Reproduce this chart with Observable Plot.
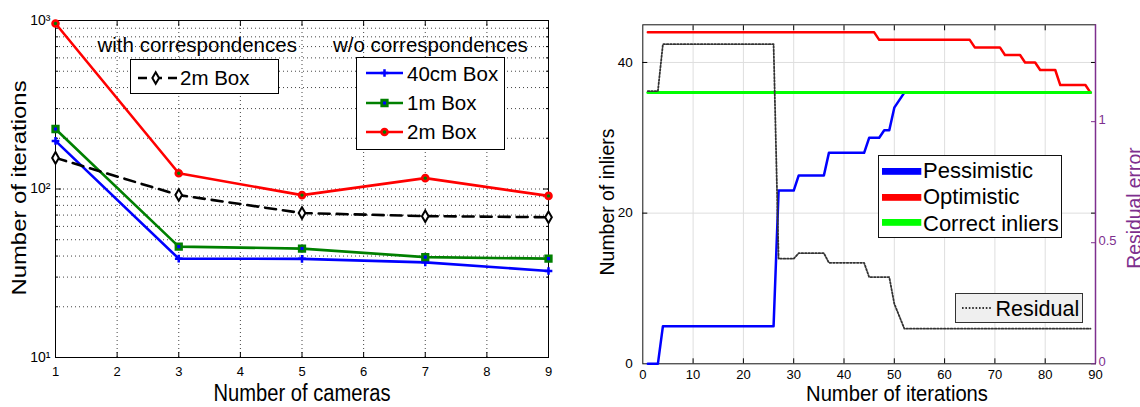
<!DOCTYPE html>
<html><head><meta charset="utf-8">
<script src="https://cdn.jsdelivr.net/npm/d3@7"></script>
<script src="https://cdn.jsdelivr.net/npm/@observablehq/plot@0.6"></script>
<style>
body{margin:0;background:#fff;font-family:"Liberation Sans",Arial,sans-serif;}
#wrap{position:relative;width:1140px;height:407px;overflow:hidden;background:#fff;}
</style></head><body><div id="wrap"></div>
<script>
// ---------- Left panel data ----------
const cameras = [1, 3, 5, 7, 9];
const box40cm = [193, 38.6, 38.5, 36.7, 32.6];
const box1m = [227, 45.5, 44.3, 39.4, 38.6];
const box2m = [960, 124, 92, 116, 91];
const box2mCorr = [153, 92, 72, 69, 68];
const cameraTicks = [1, 2, 3, 4, 5, 6, 7, 8, 9];
const iterTicksLeft = [10, 100, 1000];
const iterTickLabelsLeft = ["10\u00B9", "10\u00B2", "10\u00B3"];

// ---------- Right panel data ----------
const pessIter = [1, 3, 4, 26, 27, 30, 31, 36, 37, 44, 45, 47, 48, 49, 50, 52, 89];
const pessVal  = [0, 0, 5, 5, 23, 23, 25, 25, 28, 28, 30, 30, 31, 31, 34, 36, 36];
const optIter  = [1, 46, 47, 65, 66, 71, 72, 75, 76, 78, 79, 82, 83, 88, 89];
const optVal   = [44, 44, 43, 43, 42, 42, 41, 41, 40, 40, 39, 39, 37, 37, 36];
const corrIter = [1, 89];
const corrVal  = [36, 36];
const resIter  = [1, 3, 4, 26, 27, 30, 31, 36, 37, 44, 45, 49, 50, 52, 89];
const resVal   = [1.126, 1.126, 1.32, 1.32, 0.434, 0.434, 0.457, 0.457, 0.417, 0.417, 0.358, 0.358, 0.248, 0.145, 0.145];
const iterTicks = [0, 10, 20, 30, 40, 50, 60, 70, 80, 90];
const inlierTicks = [0, 20, 40];
const residualTicks = [0, 0.5, 1];
const residualTickLabels = ["0", "0.5", "1"];

const rows = (xs, ys) => xs.map((x, i) => ({x, y: ys[i]}));
const wrap = document.getElementById("wrap");
const FONT = "Liberation Sans, Arial, sans-serif";
const PURPLE = "#7e2f8e";

// minor log ticks
const minor = [];
for (const k of [10, 100]) for (let m = 2; m <= 9; m++) minor.push(m * k);

const dotted = {stroke: "#444", strokeOpacity: 1, strokeWidth: 1, strokeDasharray: "1,3"};

const left = Plot.plot({
  width: 590, height: 407,
  marginLeft: 55, marginRight: 42, marginTop: 20, marginBottom: 50,
  x: {domain: [1, 9], label: null},
  y: {type: "log", domain: [10, 1000], label: null},
  style: {fontFamily: FONT, fontSize: "13px", color: "#000", background: "white"},
  marks: [
    Plot.gridX(cameraTicks.slice(1, -1), dotted),
    Plot.gridY([...minor, 100], dotted),
    Plot.frame({stroke: "black"}),
    Plot.axisX(cameraTicks, {anchor: "bottom", tickSize: 0, tickPadding: 9, label: null}),
    Plot.axisX(cameraTicks.slice(1, -1), {anchor: "bottom", tickSize: 5, dy: -5, fill: "none", label: null}),
    Plot.axisX(cameraTicks.slice(1, -1), {anchor: "top", tickSize: 5, dy: 5, fill: "none", label: null}),
    Plot.axisY(iterTicksLeft, {anchor: "left", tickSize: 0, tickPadding: 5, label: null, fontSize: 14,
      tickFormat: d => iterTickLabelsLeft[iterTicksLeft.indexOf(d)]}),
    Plot.axisY(minor, {anchor: "left", tickSize: 3, dx: 3, fill: "none", label: null}),
    Plot.axisY([100], {anchor: "left", tickSize: 6, dx: 6, fill: "none", label: null}),
    Plot.axisY(minor, {anchor: "right", tickSize: 3, dx: -3, fill: "none", label: null}),
    Plot.axisY([100], {anchor: "right", tickSize: 6, dx: -6, fill: "none", label: null}),
    // 40cm Box
    Plot.line(rows(cameras, box40cm), {x: "x", y: "y", stroke: "#0000ff", strokeWidth: 2.6}),
    Plot.dot(rows(cameras, box40cm), {x: "x", y: "y", symbol: "plus", r: 2.6, stroke: "#0000ff", strokeWidth: 2.5, fill: "none"}),
    // 1m Box
    Plot.line(rows(cameras, box1m), {x: "x", y: "y", stroke: "#008000", strokeWidth: 2.6}),
    Plot.dot(rows(cameras, box1m), {x: "x", y: "y", symbol: "square", r: 3.2, stroke: "#008000", strokeWidth: 2.6, fill: "#0000ff"}),
    // 2m Box
    Plot.line(rows(cameras, box2m), {x: "x", y: "y", stroke: "#ff0000", strokeWidth: 2.6}),
    Plot.dot(rows(cameras, box2m), {x: "x", y: "y", symbol: "circle", r: 3, stroke: "#ff0000", strokeWidth: 2.6, fill: "#008000"}),
    // 2m Box with correspondences
    Plot.line(rows(cameras, box2mCorr), {x: "x", y: "y", stroke: "#000", strokeWidth: 2.6, strokeDasharray: "11,7"}),
    Plot.dot(rows(cameras, box2mCorr), {x: "x", y: "y", symbol: "diamond", r: 3.5, stroke: "#000", strokeWidth: 2, fill: "#fff"})
  ]
});
left.style.position = "absolute"; left.style.left = "0px"; left.style.top = "0px";
wrap.appendChild(left);

const RW = 550, RX = 590;
const rMargins = {marginLeft: 52.3, marginRight: 45, marginTop: 24.3, marginBottom: 43.7};
const lightGrid = {stroke: "#dedede", strokeOpacity: 1, strokeWidth: 1};

const right = Plot.plot({
  width: RW, height: 407, ...rMargins,
  x: {domain: [0, 90], label: null},
  y: {domain: [0, 45], label: null},
  style: {fontFamily: FONT, fontSize: "13px", color: "#000", background: "white"},
  marks: [
    Plot.gridX(iterTicks.slice(1, -1), lightGrid),
    Plot.gridY(inlierTicks.slice(1), lightGrid),
    Plot.frame({stroke: "#111"}),
    Plot.axisX(iterTicks, {anchor: "bottom", tickSize: 0, tickPadding: 6, label: null}),
    Plot.axisX(iterTicks.slice(1, -1), {anchor: "top", tickSize: 5, dy: 5, fill: "none", label: null}),
    Plot.axisX(iterTicks.slice(1, -1), {anchor: "bottom", tickSize: 5, dy: -5, fill: "none", label: null}),
    Plot.axisY(inlierTicks, {anchor: "left", tickSize: 0, tickPadding: 10, label: null, fontSize: 13.5}),
    Plot.axisY(inlierTicks.slice(1), {anchor: "left", tickSize: 5, dx: 5, fill: "none", label: null}),
    Plot.axisY(inlierTicks.slice(1), {anchor: "right", tickSize: 5, dx: -5, fill: "none", label: null}),
    Plot.line(rows(pessIter, pessVal), {x: "x", y: "y", stroke: "#0000ff", strokeWidth: 2.5}),
    Plot.line(rows(optIter, optVal), {x: "x", y: "y", stroke: "#ff0000", strokeWidth: 2.5}),
    Plot.line(rows(corrIter, corrVal), {x: "x", y: "y", stroke: "#00ff00", strokeWidth: 3})
  ]
});
right.style.position = "absolute"; right.style.left = RX + "px"; right.style.top = "0px";
wrap.appendChild(right);

const resid = Plot.plot({
  width: RW, height: 407, ...rMargins,
  x: {domain: [0, 90], label: null, axis: null},
  y: {domain: [0, 1.4], label: null},
  style: {fontFamily: FONT, fontSize: "13px", color: PURPLE, background: "transparent"},
  marks: [
    Plot.line(rows(resIter, resVal), {x: "x", y: "y", stroke: "#333", strokeWidth: 1.8, strokeDasharray: "1.6,1.8"}),
    Plot.ruleX([90], {stroke: PURPLE, strokeWidth: 1.5}),
    Plot.axisY(residualTicks, {anchor: "right", tickSize: 5, dx: -5, fill: "none", stroke: PURPLE, label: null}),
    Plot.axisY(residualTicks, {anchor: "right", tickSize: 0, tickPadding: 3, dy: -1.5, fill: PURPLE, label: null,
      tickFormat: d => residualTickLabels[residualTicks.indexOf(d)]})
  ]
});
resid.style.position = "absolute"; resid.style.left = RX + "px"; resid.style.top = "0px";
wrap.appendChild(resid);

// ---------- text helpers ----------
function htext(str, x, baseline, size, opts = {}) {
  const d = document.createElement("div");
  d.textContent = str;
  d.style.cssText = `position:absolute;white-space:nowrap;font-size:${size}px;line-height:${size}px;left:${x}px;top:${baseline - 0.8465 * size}px;color:${opts.color || "#000"};`;
  if (opts.center) d.style.transform = `translateX(-50%) scaleX(${opts.sx || 1})`;
  wrap.appendChild(d);
  return d;
}
function vtext(str, cx, cy, size, sAlong, color) {
  const d = document.createElement("div");
  d.textContent = str;
  d.style.cssText = `position:absolute;white-space:nowrap;font-size:${size}px;line-height:${size}px;left:${cx}px;top:${cy}px;transform:translate(-50%,-50%) rotate(-90deg) scaleX(${sAlong});color:${color || "#000"};`;
  wrap.appendChild(d);
}
function box(x, y, w, h, bg, border) {
  const d = document.createElement("div");
  d.style.cssText = `position:absolute;box-sizing:border-box;left:${x}px;top:${y}px;width:${w}px;height:${h}px;background:${bg};border:1px solid ${border};`;
  wrap.appendChild(d);
}
function swatch(x, y, w, h, inner) {
  const s = document.createElementNS("http://www.w3.org/2000/svg", "svg");
  s.setAttribute("width", w); s.setAttribute("height", h);
  s.style.cssText = `position:absolute;left:${x}px;top:${y}px;overflow:visible`;
  s.innerHTML = inner;
  wrap.appendChild(s);
}
const sym = (type, r) => d3.symbol(type, Math.PI * r * r)();

// ---------- axis titles ----------
htext("Number of cameras", 301.5, 401.5, 23.3, {center: true, sx: 0.865});
vtext("Number of iterations", 17.5, 187.5, 21, 1.138);
htext("Number of iterations", 897.3, 402, 22.5, {center: true, sx: 0.898});
vtext("Number of inliers", 605.8, 201.7, 21, 0.925);
vtext("Residual error", 1133, 207.7, 21, 0.92, PURPLE);

// ---------- left legends ----------
htext("with correspondences", 97.5, 52, 20.5);
htext("w/o correspondences", 333, 52, 20.5);

box(130, 59.3, 149.3, 34.7, "#fff", "#000");
swatch(138, 67.7, 39, 20,
  `<line x1="0" x2="39" y1="10" y2="10" stroke="#000" stroke-width="2.6" stroke-dasharray="9,6"/>
   <path transform="translate(17.7,10)" d="${sym(d3.symbolDiamond, 3.5)}" fill="#fff" stroke="#000" stroke-width="2"/>`);
htext("2m Box", 180, 85, 20.5);

box(356, 57.3, 149.3, 92.7, "#fff", "#000");
const legRows = [
  {cy: 72.7, base: 81.7, label: "40cm Box",
   shape: `<path transform="translate(18.5,10)" d="${sym(d3.symbolPlus, 2.6)}" fill="none" stroke="#0000ff" stroke-width="2.5"/>`, color: "#0000ff"},
  {cy: 102.7, base: 110.5, label: "1m Box",
   shape: `<path transform="translate(18.5,10)" d="${sym(d3.symbolSquare, 3.2)}" fill="#0000ff" stroke="#008000" stroke-width="2.6"/>`, color: "#008000"},
  {cy: 131.7, base: 139.5, label: "2m Box",
   shape: `<path transform="translate(18.5,10)" d="${sym(d3.symbolCircle, 3)}" fill="#008000" stroke="#ff0000" stroke-width="2.6"/>`, color: "#ff0000"}
];
for (const r of legRows) {
  swatch(366, r.cy - 10, 37, 20, `<line x1="0" x2="37" y1="10" y2="10" stroke="${r.color}" stroke-width="2.6"/>${r.shape}`);
  htext(r.label, 407, r.base, 20.5);
}

// ---------- right legends ----------
box(878.3, 155, 183.4, 82.7, "#fff", "#111");
const rLeg = [
  {cy: 171, base: 178.3, label: "Pessimistic", color: "#0000ff"},
  {cy: 197.5, base: 205, label: "Optimistic", color: "#ff0000"},
  {cy: 222, base: 231.5, label: "Correct inliers", color: "#00ff00"}
];
for (const r of rLeg) {
  swatch(881.7, r.cy - 3.4, 39.3, 6.8, `<rect x="0" y="0" width="39.3" height="6.8" fill="${r.color}"/>`);
  htext(r.label, 923, r.base, 22);
}
box(955, 293.3, 128.3, 30, "#efefef", "#333");
swatch(961.7, 303.3, 30, 10, `<line x1="0" x2="30" y1="5" y2="5" stroke="#333" stroke-width="1.8" stroke-dasharray="1.6,1.8"/>`);
htext("Residual", 995.5, 316.7, 21.5);
</script>
</body></html>
